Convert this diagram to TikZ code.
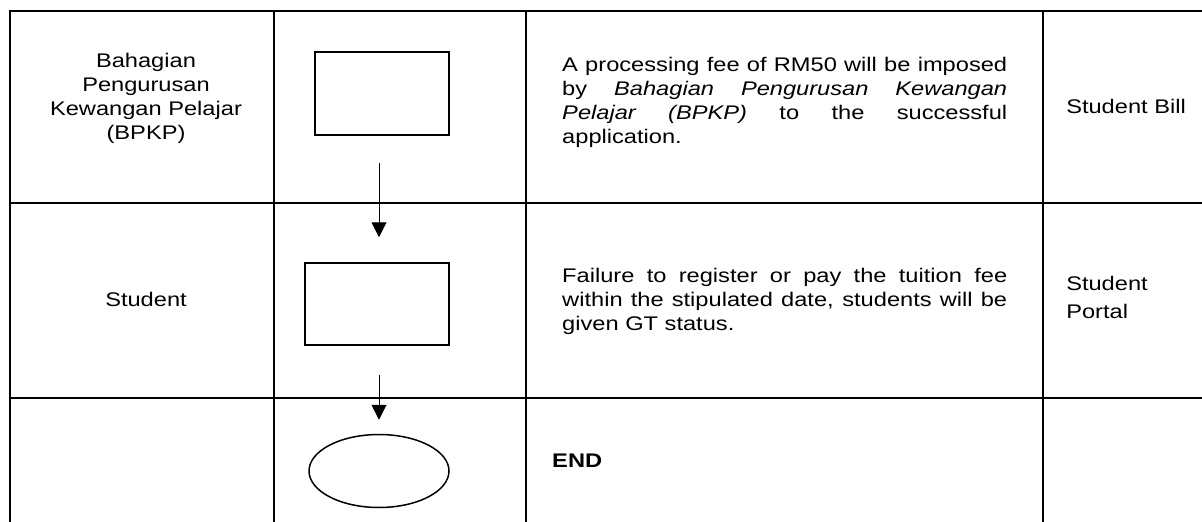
\documentclass[tikz,border=0pt]{standalone}
\usepackage{fontspec}
\setmainfont{Liberation Sans}
\usetikzlibrary{arrows.meta,shapes.geometric}
\begin{document}
\begin{tikzpicture}[x=1pt,y=-1pt,
  grid/.style={line width=2pt},
  stepbox/.style={draw,line width=1.5pt,rectangle,inner sep=0pt},
  endbox/.style={draw,line width=1.5pt,ellipse,inner sep=0pt},
  flow/.style={line width=1pt,-{Triangle[width=15pt,length=15pt]}},
  txt/.style={inner sep=0pt,xscale=1.2,transform shape,font=\fontsize{19.7}{24}\selectfont},
]
\useasboundingbox (0,0) rectangle (1202,522);
\clip (0,0) rectangle (1202,522);
% table grid
\draw[grid] (10,530) -- (10,11) -- (1215,11);
\draw[grid] (274,11) -- (274,530);
\draw[grid] (526,11) -- (526,530);
\draw[grid] (1043,11) -- (1043,530);
\draw[grid] (10,203) -- (1215,203);
\draw[grid] (10,398) -- (1215,398);
% flow shapes
\node[stepbox, minimum width=134pt, minimum height=83pt] (b1) at (382,93.5) {};
\node[stepbox, minimum width=144pt, minimum height=82pt] (b2) at (377,304) {};
\node[endbox, minimum width=140pt, minimum height=73pt] (e) at (379,471) {};
\coordinate (ax) at (379,0);
\draw[flow, shorten <=27pt, shorten >=25pt] (b1.south -| ax) -- (b2.north -| ax);
\draw[flow, shorten <=29pt, shorten >=14pt] (b2.south -| ax) -- (e.north -| ax);
% texts
\node[txt, anchor=north, align=center] (who1) at (146,53) {Bahagian\\Pengurusan\\Kewangan Pelajar\\(BPKP)};
\node[txt, anchor=north west, text width=370.8pt, align=justify] (d1) at (562,57)
  {\hyphenpenalty=10000 \tolerance=10000 A processing fee of RM50 will be imposed\linebreak by \textit{Bahagian Pengurusan Kewangan}\linebreak \textit{Pelajar (BPKP)} to the successful\linebreak application.};
\node[txt, anchor=north west] (doc1) at (1066,99) {Student Bill};
\node[txt, anchor=north] (who2) at (146,292) {Student};
\node[txt, anchor=north west, text width=370.8pt, align=justify] (d2) at (562,268)
  {\hyphenpenalty=10000 \tolerance=10000 Failure to register or pay the tuition fee\linebreak within the stipulated date, students will be\linebreak given GT status.};
\node[txt, anchor=north west, align=left, font=\fontsize{19.7}{28}\selectfont] (doc2) at (1066,276) {Student\\Portal};
\node[txt, anchor=north west, font=\fontsize{19.7}{24}\selectfont\bfseries] (endtxt) at (552,454) {END};
\end{tikzpicture}
\end{document}
